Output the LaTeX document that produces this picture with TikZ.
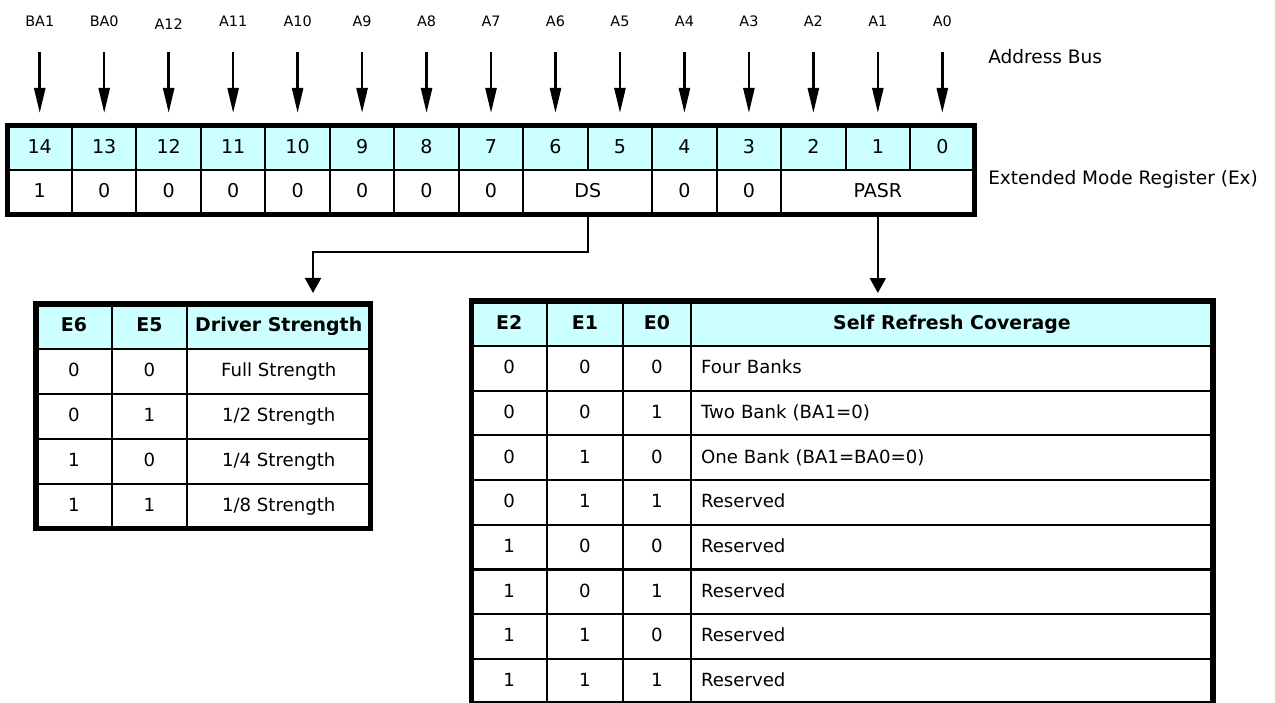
\documentclass[tikz,border=0pt]{standalone}
\usepackage{fontspec}
\setmainfont{DejaVu Sans}
\usetikzlibrary{arrows.meta,positioning}
\definecolor{regcyan}{RGB}{204,255,255}
\newcommand{\cellfont}{\fontsize{13.6}{16}\selectfont}
\newcommand{\regfont}{\fontsize{14.3}{17}\selectfont}
\newcommand{\busfont}{\fontsize{10.8}{13}\selectfont}

\begin{document}
\begin{tikzpicture}[x=0.75pt,y=-0.75pt,
    cell/.style={draw,line width=1.5pt,inner sep=0pt,outer sep=0pt,font=\cellfont,text height=9.9pt,text depth=2pt},
    regcell/.style={cell,font=\regfont,text height=10.4pt},
    head/.style={cell,fill=regcyan},
    thead/.style={head,font=\fontsize{14.2}{17}\selectfont\bfseries,text height=10.3pt},
    frame/.style={line width=4pt},
    note/.style={inner sep=0pt,font=\fontsize{13.9}{17}\selectfont},
    busarrow/.style={-{Triangle[length=18.75pt,width=8.25pt]},line width=1.9pt,shorten <=23.25pt,shorten >=9.4pt},
    tabarrow/.style={-{Triangle[length=11.25pt,width=12pt]},line width=1.6pt}]
  \useasboundingbox (0,0) rectangle (1275,703);

  % register, bit numbers
  \foreach \b in {14,13,...,0}
    \node[regcell,fill=regcyan,minimum width=48.35pt,minimum height=33.4pt] (bit\b) at ({7.5+64.47*(14.5-\b)},147.75) {\b};
  % register, values
  \foreach \b/\v in {14/1,13/0,12/0,11/0,10/0,9/0,8/0,7/0,4/0,3/0}
    \node[regcell,minimum width=48.35pt,minimum height=33.4pt] (val\b) at ({7.5+64.47*(14.5-\b)},192.25) {\v};
  \node[regcell,minimum width=96.7pt,minimum height=33.4pt] (DS) at ({7.5+64.47*9},192.25) {DS};
  \node[regcell,minimum width=145.05pt,minimum height=33.4pt] (PASR) at ({7.5+64.47*13.5},192.25) {PASR};
  \draw[frame] (bit14.north west) rectangle (PASR.south east);

  % address bus
  \foreach \b/\t/\y in {14/BA1/21,13/BA0/21,12/A12/24,11/A11/21,10/A10/21,9/A9/21,8/A8/21,7/A7/21,6/A6/21,5/A5/21,4/A4/21,3/A3/21,2/A2/21,1/A1/21,0/A0/21} {
    \node[font=\busfont] (bus\b) at ({7.5+64.47*(14.5-\b)},\y) {\t};
    \draw[busarrow] (bus\b.center |- 0,21) -- (bit\b.north);
  }
  \node[note,anchor=west] (busname) at (988,57) {Address Bus};
  \node[note,anchor=base west] (regname) at (988,184) {Extended Mode Register (Ex)};

  % driver strength table
  \foreach \n/\xc/\w/\t in {a/74/57/E6,b/149.5/56.25/E5,c/278.75/137.6/Driver Strength}
    \node[thead,minimum width=\w pt,minimum height=33.4pt] (ds\n0) at (\xc,326.25) {\t};
  \foreach \e/\f/\s [count=\r] in {0/0/{Full Strength},0/1/{1/2 Strength},1/0/{1/4 Strength},1/1/{1/8 Strength}} {
    \node[cell,minimum width=57pt,minimum height=33.75pt] (dsa\r) at (74,{326+45*\r}) {\e};
    \node[cell,minimum width=56.25pt,minimum height=33.75pt] (dsb\r) at (149.5,{326+45*\r}) {\f};
    \node[cell,minimum width=137.6pt,minimum height=33.75pt] (dsc\r) at (278.75,{326+45*\r}) {\s};
  }
  \draw[frame] (dsa0.north west) rectangle (dsc4.south east);

  % self refresh table
  \foreach \n/\xc/\w/\t in {a/509.25/56.6/E2,b/585/57/E1,c/657/51/E0,d/952/391.5/Self Refresh Coverage}
    \node[thead,minimum width=\w pt,minimum height=33.75pt] (sr\n0) at (\xc,323.5) {\t};
  \foreach \p/\q/\u/\s [count=\r] in {0/0/0/{Four Banks},0/0/1/{Two Bank (BA1=0)},0/1/0/{One Bank (BA1=BA0=0)},0/1/1/Reserved,1/0/0/Reserved,1/0/1/Reserved,1/1/0/Reserved,1/1/1/Reserved} {
    \node[cell,minimum width=56.6pt,minimum height=33.5pt] (sra\r) at (509.25,{323.65+44.7*\r}) {\p};
    \node[cell,minimum width=57pt,minimum height=33.5pt] (srb\r) at (585,{323.65+44.7*\r}) {\q};
    \node[cell,minimum width=51pt,minimum height=33.5pt] (src\r) at (657,{323.65+44.7*\r}) {\u};
    \node[cell,minimum height=33.5pt,text width=376.5pt,inner xsep=7.5pt,align=left] (srd\r) at (952,{323.65+44.7*\r}) {\s};
  }
  \draw[frame] (sra0.north west) rectangle (srd8.south east);

  % connectors
  \coordinate (dsturn) at (313,252);
  \draw[tabarrow,shorten >=8.25pt] (DS.south) |- (dsturn) -- (dsturn |- dsc0.north);
  \draw[tabarrow,shorten >=6pt] (PASR.south) -- (PASR.south |- srd0.north);
\end{tikzpicture}
\end{document}
